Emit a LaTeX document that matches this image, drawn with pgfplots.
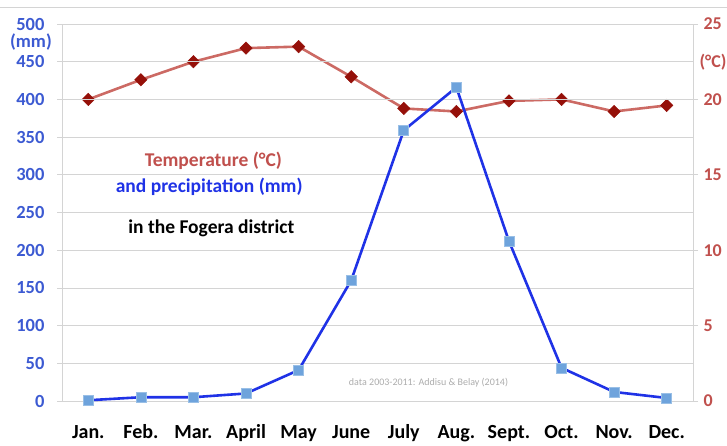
\documentclass[border=0pt]{standalone}
\usepackage{pgfplots}
\pgfplotsset{compat=1.18}
\usepackage{fontspec}
\setmainfont{Carlito}
\definecolor{precline}{HTML}{1F32E6}
\definecolor{precmark}{HTML}{6EA3DC}
\definecolor{templine}{HTML}{CC6A64}
\definecolor{tempmark}{HTML}{951009}
\definecolor{leftlab}{HTML}{3C5AD2}
\definecolor{rightlab}{HTML}{C0504D}
\definecolor{gridc}{HTML}{D4D4D4}
\begin{document}
\begin{tikzpicture}
\path[use as bounding box] (-62pt,-44pt) rectangle (665pt,401pt);
\draw[gridc, line width=1pt] (-62pt,393pt) -- (665pt,393pt);
\pgfplotsset{
  common/.style={
    width=631pt, height=377pt, scale only axis,
    xmin=0.5, xmax=12.5,
    /pgf/number format/assume math mode=true,
    tick style={gridc, line width=0.8pt},
    major tick length=5pt,
  }
}
% temperature (right axis)
\begin{axis}[common,
  at={(0,0)}, anchor=south west,
  ymin=0, ymax=25, ytick={0,5,10,15,20,25},
  axis y line*=right, axis x line=none,
  y axis line style={gridc, line width=0.8pt},
  yticklabel style={font=\fontsize{18}{20}\selectfont\bfseries, text=rightlab, xshift=2pt},
  tick align=outside,
]
\addplot[templine, line width=2.6pt, mark=square*, mark size=4.4pt,
  mark options={rotate=45, fill=tempmark, draw=tempmark, line width=0.5pt}]
  coordinates {(1,20.0) (2,21.3) (3,22.5) (4,23.4) (5,23.5) (6,21.5)
               (7,19.4) (8,19.2) (9,19.9) (10,20.0) (11,19.2) (12,19.6)};
\end{axis}
% precipitation (left axis)
\begin{axis}[common,
  at={(0,0)}, anchor=south west,
  ymin=0, ymax=500, ytick={0,50,...,500},
  axis y line*=left, axis x line*=bottom,
  axis line style={gridc, line width=0.8pt},
  ymajorgrids, grid style={gridc, line width=0.8pt},
  xtick={1,...,12},
  xticklabels={Jan.,Feb.,Mar.,April,May,June,July,Aug.,Sept.,Oct.,Nov.,Dec.},
  extra x ticks={0.5,1.5,...,12.5}, extra x tick labels={},
  extra x tick style={major tick length=6pt, tick align=outside, grid=none},
  xtick style={draw=none},
  xticklabel style={font=\fontsize{20}{22}\selectfont\bfseries, text=black, yshift=-15pt, text height=14pt, text depth=5pt},
  yticklabel style={font=\fontsize{18.5}{20}\selectfont\bfseries, text=leftlab, xshift=-9pt},
  ytick style={gridc},
  tick align=outside,
  clip=false,
]
\addplot[precline, line width=2.6pt, mark=square*, mark size=5pt,
  mark options={fill=precmark, draw=precmark!70!white, line width=0.6pt}]
  coordinates {(1,1) (2,5) (3,5) (4,10) (5,41) (6,160)
               (7,359) (8,416) (9,212) (10,44) (11,12) (12,4)};
\node[font=\fontsize{19.5}{21}\selectfont\bfseries, text=rightlab] at (axis cs:3.38,318) {Temperature (°C)};
\node[font=\fontsize{19.5}{21}\selectfont\bfseries, text=precline] at (axis cs:3.30,284) {and precipitation (mm)};
\node[font=\fontsize{19.5}{21}\selectfont\bfseries, text=black] at (axis cs:3.34,229) {in the Fogera district};
\node[font=\fontsize{10}{12}\selectfont, text=gray!65] at (axis cs:7.47,24) {data 2003-2011: Addisu \& Belay (2014)};
\node[font=\fontsize{18.5}{20}\selectfont\bfseries, text=leftlab] at ([xshift=-31pt]axis cs:0.5,476) {(mm)};
\node[font=\fontsize{18}{20}\selectfont\bfseries, text=rightlab, anchor=west] at ([xshift=3pt]axis cs:12.5,449.5) {(°C)};
\end{axis}
\end{tikzpicture}
\end{document}
